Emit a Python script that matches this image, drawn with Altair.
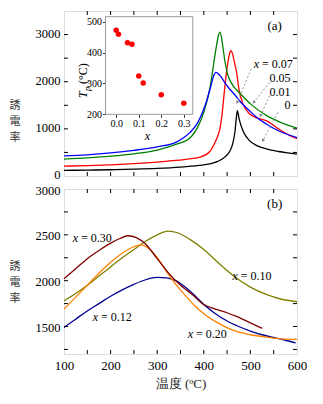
import math
import altair as alt
import pandas as pd

FONT = "Liberation Serif, Times New Roman, serif"
CJK = "Noto Sans CJK JP"
W, H = 233, 165

# ---------------- panel (a) ----------------
a_series = ["0", "0.01", "0.05", "0.07"]
a_colors = ["#000000", "#FF0000", "#008000", "#0000FF"]

a_T_0 = [100, 150, 200, 250, 300, 350, 390, 413, 430, 445, 456, 462, 467, 470, 472, 476, 484, 498, 515, 534, 560, 580, 600]
a_v_0 = [120, 125, 133, 145, 162, 190, 225, 255, 310, 400, 530, 680, 950, 1250, 1385, 1200, 960, 750, 640, 575, 520, 490, 465]

a_T_001 = [100, 150, 200, 250, 300, 340, 370, 392, 413, 423, 430, 435, 440, 445, 450, 455, 458, 462, 466, 470, 476, 484, 498, 515, 535, 560, 580, 600]
a_v_001 = [210, 220, 238, 262, 295, 330, 365, 400, 520, 690, 850, 1020, 1380, 1880, 2300, 2580, 2660, 2580, 2400, 2220, 1810, 1530, 1320, 1230, 1170, 1000, 880, 790]

a_T_005 = [100, 150, 200, 250, 300, 340, 370, 390, 400, 413, 420, 427, 432, 435, 440, 445, 450, 460, 470, 477, 500, 535, 560, 580, 600]
a_v_005 = [360, 385, 420, 470, 550, 670, 805, 1100, 1350, 1860, 2300, 2750, 3000, 3050, 2800, 2450, 2200, 1960, 1830, 1760, 1530, 1280, 1160, 1080, 1015]

a_T_007 = [100, 150, 200, 250, 300, 340, 355, 370, 385, 395, 405, 415, 421, 426, 435, 445, 455, 465, 480, 498, 515, 534, 560, 580, 600]
a_v_007 = [425, 450, 490, 545, 620, 715, 800, 920, 1100, 1300, 1560, 1900, 2120, 2200, 2130, 1980, 1850, 1740, 1560, 1385, 1230, 1104, 960, 880, 815]

# inset: peak temperature vs composition
inset_x = [0.0, 0.01, 0.05, 0.07, 0.10, 0.12, 0.20, 0.30]
inset_Tp = [472, 459, 432, 427, 324, 301, 263, 236]

# annotations in panel (a)
a_lab_T = [586, 586, 586]
a_lab_v = [2083, 1787, 1512]
a_lab_text = ["0.05", "0.01", "0"]
a_x_T = [518.5]
a_x_v = [2379]
a_x_rest = ["= 0.07"]

arr_T1 = [501.7, 541.0, 541.0, 558.8]
arr_v1 = [2273, 1983, 1702, 1349]
arr_T2 = [471.7, 507.0, 521.7, 526.6]
arr_v2 = [1560, 1560, 1279, 751]

# ---------------- panel (b) ----------------
b_series = ["0.10", "0.12", "0.20", "0.30"]
b_colors = ["#808000", "#000090", "#FF8000", "#800000"]

b_T_010 = [100, 125, 150, 175, 200, 225, 250, 275, 300, 323, 345, 370, 400, 430, 462, 500, 534, 565, 600]
b_v_010 = [1780, 1860, 1950, 2050, 2150, 2250, 2340, 2430, 2500, 2540, 2520, 2450, 2340, 2200, 2060, 1930, 1850, 1800, 1770]

b_T_012 = [100, 125, 150, 175, 200, 225, 250, 275, 300, 320, 340, 360, 380, 400, 425, 450, 475, 500, 525, 550, 575, 597]
b_v_012 = [1490, 1580, 1670, 1750, 1830, 1900, 1960, 2010, 2035, 2030, 2000, 1930, 1840, 1740, 1640, 1560, 1500, 1450, 1410, 1380, 1350, 1320]

b_T_020 = [100, 125, 150, 175, 200, 225, 250, 266, 280, 300, 320, 340, 360, 380, 400, 430, 462, 500, 534, 565, 600]
b_v_020 = [1690, 1820, 1950, 2080, 2200, 2300, 2370, 2390, 2360, 2250, 2100, 1960, 1840, 1730, 1640, 1540, 1460, 1410, 1385, 1365, 1360]

b_T_030 = [100, 125, 150, 175, 200, 220, 237, 255, 275, 300, 325, 350, 375, 400, 425, 450, 470, 500, 525]
b_v_030 = [2020, 2130, 2240, 2330, 2410, 2460, 2490, 2470, 2400, 2240, 2080, 1950, 1850, 1740, 1690, 1650, 1610, 1540, 1480]

b_x_T = [130, 473, 173, 377]
b_x_v = [2465, 2048, 1606, 1414]
b_x_rest = ["= 0.30", "= 0.10", "= 0.12", "= 0.20"]

# tick positions
tick_T = [150, 200, 250, 300, 350, 400, 450, 500, 550]
tick_a_v = [500, 1000, 1500, 2000, 2500, 3000]
tick_b_v = [1250, 1500, 1750, 2000, 2250, 2500, 2750]

Y_TITLE = "誘\n電\n率"


def long_df(series, Ts, vs):
    rows = []
    for s, T, v in zip(series, Ts, vs):
        for t, val in zip(T, v):
            rows.append({"s": s, "T": t, "v": val})
    return pd.DataFrame(rows)


df_a = long_df(a_series, [a_T_0, a_T_001, a_T_005, a_T_007], [a_v_0, a_v_001, a_v_005, a_v_007])
df_b = long_df(b_series, [b_T_010, b_T_012, b_T_020, b_T_030], [b_v_010, b_v_012, b_v_020, b_v_030])

# ---------------- encodings ----------------
x_top = alt.X("T:Q", scale=alt.Scale(domain=[100, 600], nice=False, zero=False), axis=None)
y_top = alt.Y(
    "v:Q",
    scale=alt.Scale(domain=[0, 3500], nice=False, zero=False),
    axis=alt.Axis(
        values=[0, 1000, 2000, 3000], format="d", ticks=False, tickSize=0, domain=False, grid=False,
        labelFont=FONT, labelFontSize=12.5, labelColor="#000", labelPadding=4, labelFlush=False,
        labelOffset=-1.5, title=None,
    ),
)

x_bot = alt.X(
    "T:Q",
    scale=alt.Scale(domain=[100, 600], nice=False, zero=False),
    axis=alt.Axis(
        values=[100, 200, 300, 400, 500, 600], format="d", ticks=False, tickSize=0, domain=False, grid=False,
        labelFont=FONT, labelFontSize=13, labelColor="#000", labelPadding=5, labelFlush=False,
        title="温度 (ºC)", titleFont=FONT, titleFontSize=13, titleFontWeight="normal",
        titlePadding=5, titleColor="#222",
    ),
)
y_bot = alt.Y(
    "v:Q",
    scale=alt.Scale(domain=[1200, 3000], nice=False, zero=False),
    axis=alt.Axis(
        values=[1500, 2000, 2500, 3000], format="d", ticks=False, tickSize=0, domain=False, grid=False,
        labelFont=FONT, labelFontSize=12.5, labelColor="#000", labelPadding=4, labelFlush=False,
        labelOffset=1, title=None,
    ),
)


def tick_layers(xenc, yenc, tv):
    dT = pd.DataFrame({"T": tick_T})
    dv = pd.DataFrame({"v": tv})
    st = dict(color="#000", strokeWidth=1)
    return [
        alt.Chart(dT).mark_rule(**st).encode(x=xenc, y=alt.value(H), y2=alt.value(H - 4)),
        alt.Chart(dT).mark_rule(**st).encode(x=xenc, y=alt.value(0), y2=alt.value(4)),
        alt.Chart(dv).mark_rule(**st).encode(y=yenc, x=alt.value(0), x2=alt.value(4)),
        alt.Chart(dv).mark_rule(**st).encode(y=yenc, x=alt.value(W), x2=alt.value(W - 4)),
    ]


def ytitle(ypix):
    return alt.Chart(pd.DataFrame({"t": [Y_TITLE]})).mark_text(
        font=CJK, fontSize=11, lineBreak="\n", lineHeight=16, align="center",
        baseline="middle", color="#333",
    ).encode(x=alt.value(-49), y=alt.value(ypix), text="t:N")


# ---------------- top panel ----------------
lines_a = alt.Chart(df_a).mark_line(strokeWidth=1.3, interpolate="monotone").encode(
    x=x_top, y=y_top,
    color=alt.Color("s:N", scale=alt.Scale(domain=a_series, range=a_colors), legend=None),
)

pxT = W / 500.0
pxV = H / 3500.0
angles = []
for t1, v1, t2, v2 in zip(arr_T1, arr_v1, arr_T2, arr_v2):
    dx = (t2 - t1) * pxT
    dys = -(v2 - v1) * pxV
    angles.append(math.degrees(math.atan2(dx, -dys)) % 360)

df_arr = pd.DataFrame({"T": arr_T1, "v": arr_v1, "T2": arr_T2, "v2": arr_v2, "ang": angles})
arrows = alt.Chart(df_arr).mark_rule(color="#888", strokeWidth=0.9, strokeDash=[2, 2]).encode(
    x=x_top, y=y_top, x2="T2:Q", y2="v2:Q"
)
heads = alt.Chart(df_arr).mark_point(shape="triangle-up", filled=True, color="#888", size=14, opacity=1).encode(
    x=alt.X("T2:Q", scale=alt.Scale(domain=[100, 600], nice=False, zero=False), axis=None),
    y=alt.Y("v2:Q", scale=alt.Scale(domain=[0, 3500], nice=False, zero=False)),
    angle=alt.Angle("ang:Q", scale=None),
)

df_alab = pd.DataFrame({"T": a_lab_T, "v": a_lab_v, "t": a_lab_text})
alab = alt.Chart(df_alab).mark_text(font=FONT, fontSize=12, align="right", baseline="middle", color="#000").encode(
    x=x_top, y=y_top, text="t:N"
)
df_ax = pd.DataFrame({"T": a_x_T, "v": a_x_v, "t": a_x_rest})
ax_i = alt.Chart(df_ax).mark_text(font=FONT, fontSize=12, fontStyle="italic", align="right", baseline="middle", text="x", color="#000").encode(
    x=x_top, y=y_top
)
ax_r = alt.Chart(df_ax).mark_text(font=FONT, fontSize=12, align="left", baseline="middle", dx=3, color="#000").encode(
    x=x_top, y=y_top, text="t:N"
)
df_pa = pd.DataFrame({"T": [552], "v": [3182], "t": ["(a)"]})
pa = alt.Chart(df_pa).mark_text(font=FONT, fontSize=13, align="center", baseline="middle", color="#000").encode(
    x=x_top, y=y_top, text="t:N"
)

frame = alt.Chart(pd.DataFrame({"T": [0]})).mark_rect(fill="white", stroke="#999", strokeWidth=1).encode(
    x=alt.value(41.5), x2=alt.value(128.8), y=alt.value(5.7), y2=alt.value(103.3)
)

main_a = alt.layer(lines_a, *tick_layers(x_top, y_top, tick_a_v), arrows, heads, alab, ax_i, ax_r, pa, frame, ytitle(95))

df_in = pd.DataFrame({"x": inset_x, "Tp": inset_Tp})
inset_pts = alt.Chart(df_in).mark_circle(color="#FF0000", size=30, opacity=1).encode(
    x=alt.X(
        "x:Q",
        scale=alt.Scale(domain=[-0.0475, 0.34], range=[41.5, 128.8], nice=False, zero=False),
        axis=alt.Axis(
            orient="bottom", offset=-(H - 103.3), values=[0, 0.1, 0.2, 0.3], format=".1f",
            domain=False, grid=False, tickSize=3, tickColor="#333", labelFont=FONT, labelFontSize=10,
            labelColor="#000", labelPadding=1, labelFlush=False, title=None,
        ),
    ),
    y=alt.Y(
        "Tp:Q",
        scale=alt.Scale(domain=[200, 516], range=[103.3, 5.7], nice=False, zero=False),
        axis=alt.Axis(
            orient="left", offset=-41.5, values=[200, 300, 400, 500],
            domain=False, grid=False, tickSize=3, tickColor="#333", labelFont=FONT, labelFontSize=10,
            labelColor="#000", labelPadding=1, labelFlush=False, title=None,
        ),
    ),
)
in_xt = alt.Chart(pd.DataFrame({"t": ["x"]})).mark_text(font=FONT, fontSize=12, fontStyle="italic", align="center", baseline="middle", color="#000").encode(
    x=alt.value(83.5), y=alt.value(125), text="t:N"
)
in_T = alt.Chart(pd.DataFrame({"t": ["T"]})).mark_text(font=FONT, fontSize=12, fontStyle="italic", align="left", baseline="alphabetic", angle=270, color="#000").encode(
    x=alt.value(22.5), y=alt.value(87), text="t:N"
)
in_p = alt.Chart(pd.DataFrame({"t": ["p"]})).mark_text(font=FONT, fontSize=9, fontStyle="italic", align="left", baseline="alphabetic", angle=270, dx=7, dy=3, color="#000").encode(
    x=alt.value(22.5), y=alt.value(87), text="t:N"
)
in_C = alt.Chart(pd.DataFrame({"t": ["(°C)"]})).mark_text(font=FONT, fontSize=12, align="left", baseline="alphabetic", angle=270, dx=14, color="#000").encode(
    x=alt.value(22.5), y=alt.value(87), text="t:N"
)
inset = alt.layer(inset_pts, in_xt, in_T, in_p, in_C)

top = alt.layer(main_a, inset).resolve_scale(x="independent", y="independent").properties(width=W, height=H)

# ---------------- bottom panel ----------------
lines_b = alt.Chart(df_b).mark_line(strokeWidth=1.3, interpolate="monotone").encode(
    x=x_bot, y=y_bot,
    color=alt.Color("s:N", scale=alt.Scale(domain=b_series, range=b_colors), legend=None),
)
df_bx = pd.DataFrame({"T": b_x_T, "v": b_x_v, "t": b_x_rest})
bx_i = alt.Chart(df_bx).mark_text(font=FONT, fontSize=12, fontStyle="italic", align="right", baseline="middle", text="x", color="#000").encode(
    x=x_bot, y=y_bot
)
bx_r = alt.Chart(df_bx).mark_text(font=FONT, fontSize=12, align="left", baseline="middle", dx=3, color="#000").encode(
    x=x_bot, y=y_bot, text="t:N"
)
df_pb = pd.DataFrame({"T": [552], "v": [2839], "t": ["(b)"]})
pb = alt.Chart(df_pb).mark_text(font=FONT, fontSize=13, align="center", baseline="middle", color="#000").encode(
    x=x_bot, y=y_bot, text="t:N"
)
bottom = alt.layer(lines_b, *tick_layers(x_bot, y_bot, tick_b_v), bx_i, bx_r, pb, ytitle(78)).properties(width=W, height=H)

chart = alt.vconcat(top, bottom, spacing=13, bounds="flush").resolve_scale(
    x="independent", y="independent", color="independent"
).properties(
    padding={"left": 9, "top": 10, "right": 5, "bottom": 5}
).configure_view(stroke="#000", strokeWidth=1).configure(background="white")

chart.save("out.html", embed_options={"renderer": "svg", "actions": False})
